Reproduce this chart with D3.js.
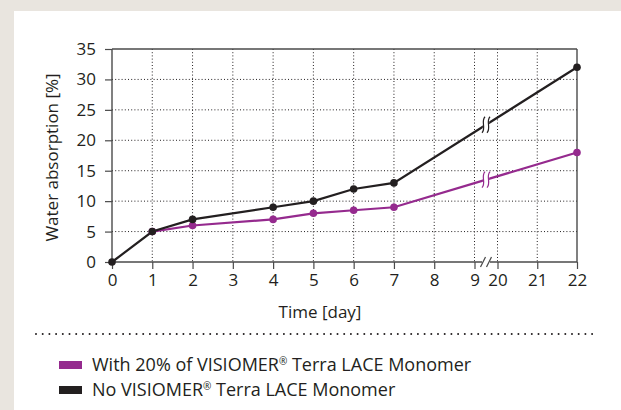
<!DOCTYPE html>
<html>
<head>
<meta charset="utf-8">
<script src="https://cdn.jsdelivr.net/npm/d3@7"></script>
<style>
html,body{margin:0;padding:0;background:#e9e5df;}
svg{display:block;}
text{font-family:"Open Sans","Noto Sans",sans-serif;fill:#231f20;}
</style>
</head>
<body>
<svg id="chart" width="621" height="410"></svg>
<script>
// ---- data ----
const days = [0, 1, 2, 4, 5, 6, 7, 22];
const noMonomer = [0, 5, 7, 9, 10, 12, 13, 32];
const withDays = [1, 2, 4, 5, 6, 7, 22];
const withMonomer = [5, 6, 7, 8, 8.5, 9, 18];
const xTicks = [0, 1, 2, 3, 4, 5, 6, 7, 8, 9, 20, 21, 22];
const yTicks = [0, 5, 10, 15, 20, 25, 30, 35];
const seriesNames = ["With 20% of VISIOMER® Terra LACE Monomer", "No VISIOMER® Terra LACE Monomer"];
const seriesColors = ["#952a8e", "#231f20"];

const svg = d3.select("#chart");
svg.append("rect").attr("x", 0).attr("y", 0).attr("width", 621).attr("height", 410).attr("fill", "#e9e5df");
svg.append("rect").attr("x", 14).attr("y", 11).attr("width", 607).attr("height", 399).attr("fill", "#ffffff");

const L = 112, R = 577, T = 49, B = 262;
const x = d3.scaleLinear().domain([0, 9, 20, 22]).range([L, 474.5, 497.5, R]);
const y = d3.scaleLinear().domain([0, 35]).range([B, T]);
const axisColor = "#4a4a4a";

// grid
const g = svg.append("g");
g.selectAll("line.vg").data(xTicks.filter(d => d !== 0 && d !== 22)).join("line")
  .attr("x1", d => x(d)).attr("x2", d => x(d)).attr("y1", T).attr("y2", B)
  .attr("stroke", "#231f20").attr("stroke-width", 1).attr("stroke-dasharray", "1,2.2");
g.selectAll("line.hg").data(yTicks.filter(d => d !== 0 && d !== 35)).join("line")
  .attr("x1", L).attr("x2", R).attr("y1", d => y(d)).attr("y2", d => y(d))
  .attr("stroke", "#231f20").attr("stroke-width", 1).attr("stroke-dasharray", "1,2.2");

// frame top / right
svg.append("line").attr("x1", L).attr("x2", R).attr("y1", T).attr("y2", T).attr("stroke", axisColor).attr("stroke-width", 1.4);
svg.append("line").attr("x1", R).attr("x2", R).attr("y1", T).attr("y2", B).attr("stroke", axisColor).attr("stroke-width", 1.4);

// axes
const xAxis = d3.axisBottom(x).tickValues(xTicks).tickSize(7).tickPadding(5).tickFormat(d3.format("d"));
const yAxis = d3.axisLeft(y).tickValues(yTicks).tickSize(7).tickPadding(9).tickFormat(d3.format("d"));
const gx = svg.append("g").attr("transform", `translate(0,${B})`).call(xAxis);
const gy = svg.append("g").attr("transform", `translate(${L},0)`).call(yAxis);
[gx, gy].forEach(a => {
  a.select(".domain").attr("stroke", axisColor).attr("stroke-width", 1.4);
  a.selectAll(".tick line").attr("stroke", axisColor).attr("stroke-width", 1.2);
  a.selectAll(".tick text").style("font-family", "'Open Sans', sans-serif").style("font-size", "17px").attr("fill", "#231f20");
});
gx.select(".domain").attr("d", `M${L},0H${R}`);
gy.select(".domain").attr("d", `M0,${T}V${B}`);

// axis break marks
const bx = (x(9) + x(20)) / 2;
const ab = svg.append("g");
ab.append("rect").attr("x", bx - 4).attr("y", B - 2).attr("width", 8).attr("height", 4).attr("fill", "#fff");
[-3, 3].forEach(o => ab.append("line")
  .attr("x1", bx + o - 2.5).attr("y1", B + 5).attr("x2", bx + o + 2.5).attr("y2", B - 5)
  .attr("stroke", axisColor).attr("stroke-width", 1.2));

// lines
const line = d3.line().x(d => x(d[0])).y(d => y(d[1]));
const blackData = days.map((d, i) => [d, noMonomer[i]]);
const purpleData = withDays.map((d, i) => [d, withMonomer[i]]);
svg.append("path").datum(purpleData).attr("d", line).attr("fill", "none").attr("stroke", seriesColors[0]).attr("stroke-width", 2.2);
svg.append("path").datum(blackData).attr("d", line).attr("fill", "none").attr("stroke", seriesColors[1]).attr("stroke-width", 2.2);

// series break marks
function lineBreak(data, color) {
  const a = data[data.length - 2], b = data[data.length - 1];
  const x0 = x(a[0]), y0 = y(a[1]), x1 = x(b[0]), y1 = y(b[1]);
  const f = (bx - x0) / (x1 - x0);
  const cy = y0 + f * (y1 - y0);
  const gb = svg.append("g");
  gb.append("path").attr("d", `M${bx - 2.5},${cy - 8} L${bx + 3.5},${cy - 8} L${bx + 2.5},${cy + 8} L${bx - 3.5},${cy + 8} Z`).attr("fill", "#fff");
  [-2.5, 2.5].forEach(o => {
    const cx = bx + o;
    gb.append("path")
      .attr("d", `M${cx + 1.5},${cy - 8} C${cx - 3},${cy - 3} ${cx + 3},${cy + 3} ${cx - 1.5},${cy + 8}`)
      .attr("fill", "none").attr("stroke", color).attr("stroke-width", 1.2);
  });
}
lineBreak(purpleData, seriesColors[0]);
lineBreak(blackData, seriesColors[1]);

// points
svg.selectAll("circle.p").data(purpleData).join("circle").attr("cx", d => x(d[0])).attr("cy", d => y(d[1])).attr("r", 3.8).attr("fill", seriesColors[0]);
svg.selectAll("circle.b").data(blackData).join("circle").attr("cx", d => x(d[0])).attr("cy", d => y(d[1])).attr("r", 3.8).attr("fill", seriesColors[1]);

// axis titles
svg.append("text").attr("x", 320).attr("y", 318).attr("text-anchor", "middle").style("font-size", "17px").text("Time [day]");
svg.append("text").attr("transform", `translate(58,${(T + B) / 2 + 2}) rotate(-90)`).attr("text-anchor", "middle").style("font-size", "17px").text("Water absorption [%]");

// dotted separator
svg.append("line").attr("x1", 36).attr("x2", 593).attr("y1", 334).attr("y2", 334)
  .attr("stroke", "#231f20").attr("stroke-width", 2).attr("stroke-linecap", "round").attr("stroke-dasharray", "0,6.7");

// legend
const lg = svg.append("g");
seriesNames.forEach((name, i) => {
  const yy = 365 + i * 25;
  lg.append("rect").attr("x", 59).attr("y", yy - 4).attr("width", 23).attr("height", 8).attr("fill", seriesColors[i]);
  const t = lg.append("text").attr("x", 92).attr("y", yy + 6).style("font-size", "18px");
  const parts = name.split("®");
  t.append("tspan").text(parts[0]);
  t.append("tspan").attr("dy", -6).style("font-size", "10px").text("®");
  t.append("tspan").attr("dy", 6).text(parts[1]);
});
</script>
</body>
</html>
